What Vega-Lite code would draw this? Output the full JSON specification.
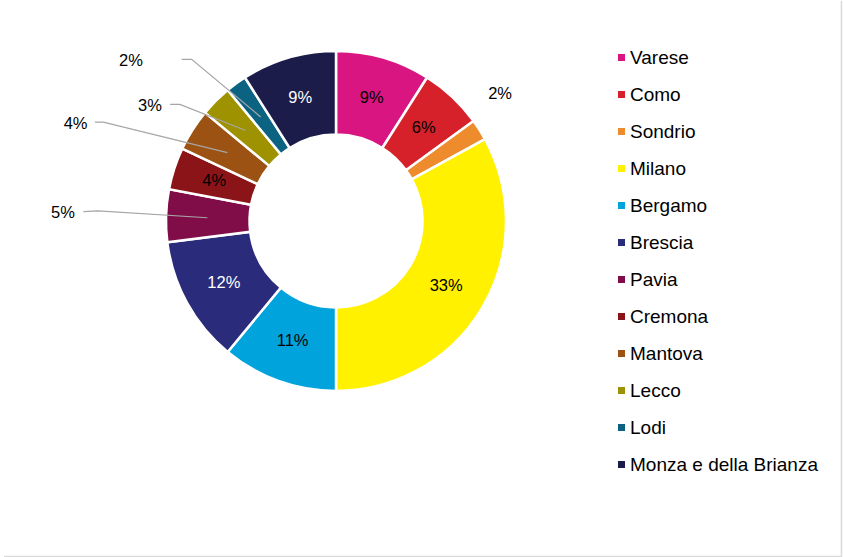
{
  "$schema": "https://vega.github.io/schema/vega-lite/v6.json",
  "width": 672,
  "height": 440,
  "padding": 0,
  "autosize": {"type": "pad"},
  "background": "white",
  "config": {"view": {"stroke": null}, "font": "Liberation Sans"},
  "datasets": {
    "slices": [
      {"idx": 1, "name": "Varese", "pct": 0.09},
      {"idx": 2, "name": "Como", "pct": 0.06},
      {"idx": 3, "name": "Sondrio", "pct": 0.02},
      {"idx": 4, "name": "Milano", "pct": 0.33},
      {"idx": 5, "name": "Bergamo", "pct": 0.11},
      {"idx": 6, "name": "Brescia", "pct": 0.12},
      {"idx": 7, "name": "Pavia", "pct": 0.05},
      {"idx": 8, "name": "Cremona", "pct": 0.04},
      {"idx": 9, "name": "Mantova", "pct": 0.04},
      {"idx": 10, "name": "Lecco", "pct": 0.03},
      {"idx": 11, "name": "Lodi", "pct": 0.02},
      {"idx": 12, "name": "Monza e della Brianza", "pct": 0.09}
    ],
    "leaders": [
      {"name": "Lodi", "seq": 1, "x": -0.908, "y": 0.951},
      {"name": "Lodi", "seq": 2, "x": -0.849, "y": 0.951},
      {"name": "Lodi", "seq": 3, "x": -0.443, "y": 0.612},
      {"name": "Lecco", "seq": 1, "x": -0.976, "y": 0.686},
      {"name": "Lecco", "seq": 2, "x": -0.918, "y": 0.686},
      {"name": "Lecco", "seq": 3, "x": -0.535, "y": 0.534},
      {"name": "Mantova", "seq": 1, "x": -1.418, "y": 0.582},
      {"name": "Mantova", "seq": 2, "x": -1.369, "y": 0.582},
      {"name": "Mantova", "seq": 3, "x": -0.639, "y": 0.402},
      {"name": "Pavia", "seq": 1, "x": -1.486, "y": 0.055},
      {"name": "Pavia", "seq": 2, "x": -1.4, "y": 0.059},
      {"name": "Pavia", "seq": 3, "x": -0.757, "y": 0.019}
    ],
    "outlabels": [
      {"name": "Sondrio", "pct": 0.02, "x": 0.965, "y": 0.747},
      {"name": "Pavia", "pct": 0.05, "x": -1.606, "y": 0.047},
      {"name": "Mantova", "pct": 0.04, "x": -1.532, "y": 0.571},
      {"name": "Lecco", "pct": 0.03, "x": -1.094, "y": 0.676},
      {"name": "Lodi", "pct": 0.02, "x": -1.206, "y": 0.941}
    ],
    "border": [
      {"x": 2.9735, "y": 1.294, "x2": 2.9735, "y2": -1.982},
      {"x": -1.953, "y": -1.9735, "x2": 2.9735, "y2": -1.9735}
    ]
  },
  "layer": [
    {
      "data": {"name": "slices"},
      "mark": {"type": "arc", "outerRadius": 170, "innerRadius": 86.5, "stroke": "white", "strokeWidth": 2.5},
      "encoding": {
        "theta": {"field": "pct", "type": "quantitative", "stack": true},
        "order": {"field": "idx", "type": "quantitative"},
        "color": {
          "field": "name",
          "type": "nominal",
          "scale": {
            "domain": ["Varese", "Como", "Sondrio", "Milano", "Bergamo", "Brescia", "Pavia", "Cremona", "Mantova", "Lecco", "Lodi", "Monza e della Brianza"],
            "range": ["#D81580", "#D6212B", "#ED8B2D", "#FFF100", "#00A3DC", "#2A2B7A", "#800C48", "#8B1418", "#9B5213", "#9E9200", "#0B6381", "#1C1C4B"]
          },
          "legend": {
            "title": null,
            "orient": "none",
            "legendX": 612,
            "legendY": 47,
            "padding": 0,
            "symbolType": "square",
            "symbolSize": 49,
            "symbolStrokeWidth": 0,
            "labelFontSize": 19,
            "labelColor": "black",
            "labelOffset": -1,
            "labelLimit": 0,
            "rowPadding": 17
          }
        }
      }
    },
    {
      "data": {"name": "slices"},
      "mark": {"type": "text", "radius": 128, "fontSize": 16.5, "baseline": "middle", "align": "center"},
      "encoding": {
        "theta": {"field": "pct", "type": "quantitative", "stack": true},
        "order": {"field": "idx", "type": "quantitative"},
        "text": {
          "condition": {
            "test": "indexof(['Varese','Como','Milano','Bergamo','Brescia','Cremona','Monza e della Brianza'], datum.name) >= 0",
            "field": "pct",
            "type": "quantitative",
            "format": ".0%"
          },
          "value": ""
        },
        "color": {
          "condition": {"test": "datum.name === 'Brescia' || datum.name === 'Monza e della Brianza'", "value": "white"},
          "value": "black"
        }
      }
    },
    {
      "data": {"name": "leaders"},
      "mark": {"type": "line", "color": "#A6A6A6", "strokeWidth": 1.2},
      "encoding": {
        "x": {"field": "x", "type": "quantitative", "scale": {"domain": [-1.97647, 1.97647], "nice": false, "zero": false}, "axis": null},
        "y": {"field": "y", "type": "quantitative", "scale": {"domain": [-1.29412, 1.29412], "nice": false, "zero": false}, "axis": null},
        "detail": {"field": "name", "type": "nominal"},
        "order": {"field": "seq", "type": "quantitative"}
      }
    },
    {
      "data": {"name": "outlabels"},
      "mark": {"type": "text", "fontSize": 16.5, "color": "black", "baseline": "middle", "align": "center"},
      "encoding": {
        "x": {"field": "x", "type": "quantitative", "scale": {"domain": [-1.97647, 1.97647], "nice": false, "zero": false}, "axis": null},
        "y": {"field": "y", "type": "quantitative", "scale": {"domain": [-1.29412, 1.29412], "nice": false, "zero": false}, "axis": null},
        "text": {"field": "pct", "type": "quantitative", "format": ".0%"}
      }
    },
    {
      "data": {"name": "border"},
      "mark": {"type": "rule", "color": "#D9D9D9", "strokeWidth": 1.5},
      "encoding": {
        "x": {"field": "x", "type": "quantitative", "scale": {"domain": [-1.97647, 1.97647], "nice": false, "zero": false}, "axis": null},
        "y": {"field": "y", "type": "quantitative", "scale": {"domain": [-1.29412, 1.29412], "nice": false, "zero": false}, "axis": null},
        "x2": {"field": "x2"},
        "y2": {"field": "y2"}
      }
    }
  ]
}
